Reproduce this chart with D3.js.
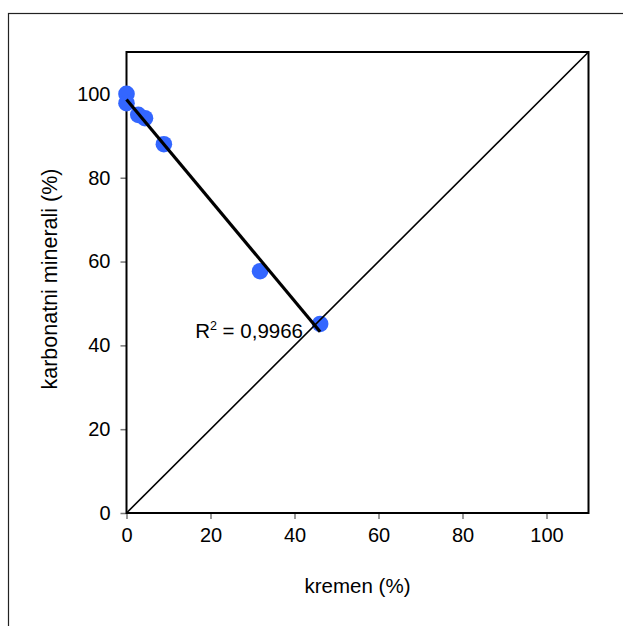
<!DOCTYPE html>
<html>
<head>
<meta charset="utf-8">
<script src="https://cdn.jsdelivr.net/npm/d3@7"></script>
<style>
  html, body { margin: 0; padding: 0; background: #fff; overflow: hidden; }
  text { font-family: "Liberation Sans", Arial, sans-serif; fill: #000; }
</style>
</head>
<body>
<svg id="chart" width="623" height="626"></svg>
<script>
// ---- data ----
const kremen = [0, 0, 2.8, 4.4, 8.9, 31.8, 46.1];
const karbonati = [100, 97.8, 95, 94.2, 88, 57.7, 45.1];
const xTicks = [0, 20, 40, 60, 80, 100];
const yTicks = [0, 20, 40, 60, 80, 100];
const axisMax = [110];
const r2Label = ["0,9966"];
const xTitle = "kremen (%)";
const yTitle = "karbonatni minerali (%)";

// ---- layout ----
const svg = d3.select("#chart");
const L = 126.5, T = 52, R = 588.5, B = 513;
const x = d3.scaleLinear().domain([0, axisMax[0]]).range([L, R]);
const y = d3.scaleLinear().domain([0, axisMax[0]]).range([B, T]);

// outer chart frame (extends beyond viewport right/bottom)
svg.append("rect").attr("x", 8.5).attr("y", 13.5).attr("width", 800).attr("height", 800)
  .attr("fill", "none").attr("stroke", "#222").attr("stroke-width", 1.2);

// axes
const xAxis = d3.axisBottom(x).tickValues(xTicks).tickSize(6).tickPadding(9).tickFormat(d3.format("d"));
const yAxis = d3.axisLeft(y).tickValues(yTicks).tickSize(6).tickPadding(10).tickFormat(d3.format("d"));
const gx = svg.append("g").attr("transform", `translate(0,${B})`).call(xAxis);
const gy = svg.append("g").attr("transform", `translate(${L},0)`).call(yAxis);
[gx, gy].forEach(g => {
  g.select(".domain").remove();
  g.selectAll(".tick line").attr("stroke", "#777").attr("stroke-width", 1.5);
  g.selectAll(".tick text").attr("font-size", 20).attr("font-family", "Liberation Sans, Arial, sans-serif");
});
gx.selectAll(".tick text").attr("dy", "0.71em");

// plot frame
svg.append("rect").attr("x", L).attr("y", T).attr("width", R - L).attr("height", B - T)
  .attr("fill", "none").attr("stroke", "#000").attr("stroke-width", 2);

// points
const pts = kremen.map((v, i) => ({ x: v, y: karbonati[i] }));
svg.append("g").selectAll("circle").data(pts).join("circle")
  .attr("cx", d => x(d.x)).attr("cy", d => y(d.y)).attr("r", 8.3)
  .attr("fill", "#3366ff");

// y = x line
svg.append("line")
  .attr("x1", x(0)).attr("y1", y(0)).attr("x2", x(axisMax[0])).attr("y2", y(axisMax[0]))
  .attr("stroke", "#000").attr("stroke-width", 1.6);

// linear trendline
const mx = d3.mean(pts, d => d.x), my = d3.mean(pts, d => d.y);
const sxy = d3.sum(pts, d => (d.x - mx) * (d.y - my));
const sxx = d3.sum(pts, d => (d.x - mx) ** 2);
const slope = sxy / sxx, icpt = my - slope * mx;
const xmin = d3.min(kremen), xmax = d3.max(kremen);
svg.append("line")
  .attr("x1", x(xmin)).attr("y1", y(icpt + slope * xmin))
  .attr("x2", x(xmax)).attr("y2", y(icpt + slope * xmax))
  .attr("stroke", "#000").attr("stroke-width", 3.2);

// R² label
const r2 = svg.append("text").attr("x", 303).attr("y", 337.5).attr("text-anchor", "end")
  .attr("font-size", 20.5);
r2.append("tspan").text("R");
r2.append("tspan").attr("font-size", 12.5).attr("dy", -8).text("2");
r2.append("tspan").attr("dy", 8).text(" = " + r2Label[0]);

// axis titles
svg.append("text").attr("x", (L + R) / 2).attr("y", 593).attr("text-anchor", "middle")
  .attr("font-size", 20.5).text(xTitle);
svg.append("text").attr("transform", `translate(57,279) rotate(-90)`)
  .attr("text-anchor", "middle").attr("font-size", 21.5).text(yTitle);
</script>
</body>
</html>
